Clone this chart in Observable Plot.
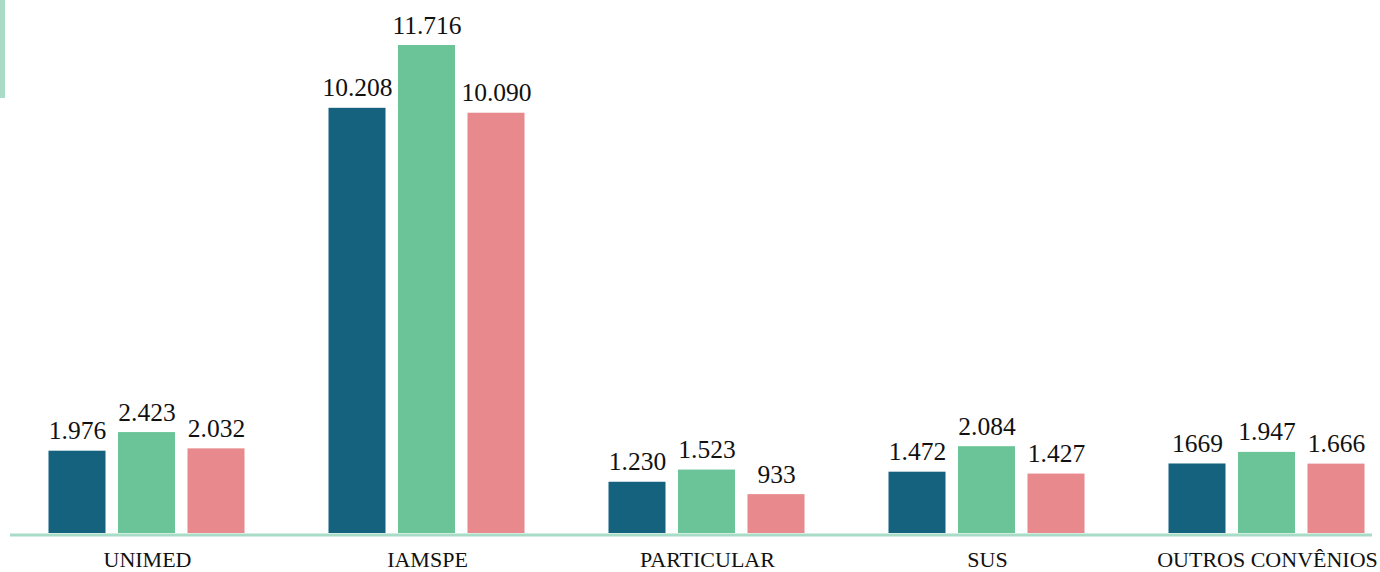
<!DOCTYPE html>
<html>
<head>
<meta charset="utf-8">
<script src="https://cdn.jsdelivr.net/npm/d3@7"></script>
<script src="https://cdn.jsdelivr.net/npm/@observablehq/plot@0.6"></script>
<style>
  html, body { margin: 0; padding: 0; background: #fff; }
  #wrap { position: relative; width: 1380px; height: 572px; }
  #accent { position: absolute; left: 0; top: 0; width: 5px; height: 98px; background: #a9dcc6; }
</style>
</head>
<body>
<div id="wrap"><div id="accent"></div></div>
<script>
const categories = ["UNIMED", "IAMSPE", "PARTICULAR", "SUS", "OUTROS CONVÊNIOS"];
const series = ["Série 1", "Série 2", "Série 3"];
const serie1 = [1976, 10208, 1230, 1472, 1669];
const serie2 = [2423, 11716, 1523, 2084, 1947];
const serie3 = [2032, 10090, 933, 1427, 1666];
const labels1 = ["1.976", "10.208", "1.230", "1.472", "1669"];
const labels2 = ["2.423", "11.716", "1.523", "2.084", "1.947"];
const labels3 = ["2.032", "10.090", "933", "1.427", "1.666"];
const colors = ["#15627f", "#6bc498", "#e8898e"];

const values = [serie1, serie2, serie3];
const labelSets = [labels1, labels2, labels3];
const data = [];
series.forEach((s, i) => categories.forEach((c, j) => data.push({cat: c, series: s, value: values[i][j], label: labelSets[i][j]})));

const serif = "'Liberation Serif', 'Times New Roman', Times, serif";
const offsets = [-69.5, 0, 69.5];
const barW = 57;
const step = 1316 / (5 - 0.3);
const bw = step * 0.7;
const inset = (bw - barW) / 2;

const marks = [];
series.forEach((s, i) => {
  const sub = data.filter(d => d.series === s);
  marks.push(Plot.barY(sub, {x: "cat", y: "value", fill: "series", dx: offsets[i] - 0.5, insetLeft: inset, insetRight: inset}));
  marks.push(Plot.text(sub, {x: "cat", y: "value", text: "label", dx: offsets[i] - 0.5, dy: -12, lineAnchor: "bottom", fontSize: 25.5, fontFamily: serif, fill: "#111"}));
});
marks.push(Plot.ruleY([0], {stroke: "#a9dcc6", strokeWidth: 3, dy: 1.5}));

const chart = Plot.plot({
  width: 1380,
  height: 572,
  marginLeft: 10,
  marginRight: 8,
  marginTop: 45,
  marginBottom: 39,
  style: {fontFamily: serif, fontSize: "22px", color: "#111", background: "#fff"},
  x: {domain: categories, range: [49, 1365], paddingInner: 0.3, paddingOuter: 0, tickSize: 0, tickPadding: 18, label: null},
  y: {domain: [0, 11716], axis: null},
  color: {domain: series, range: colors},
  marks
});
document.getElementById("wrap").appendChild(chart);
</script>
</body>
</html>
